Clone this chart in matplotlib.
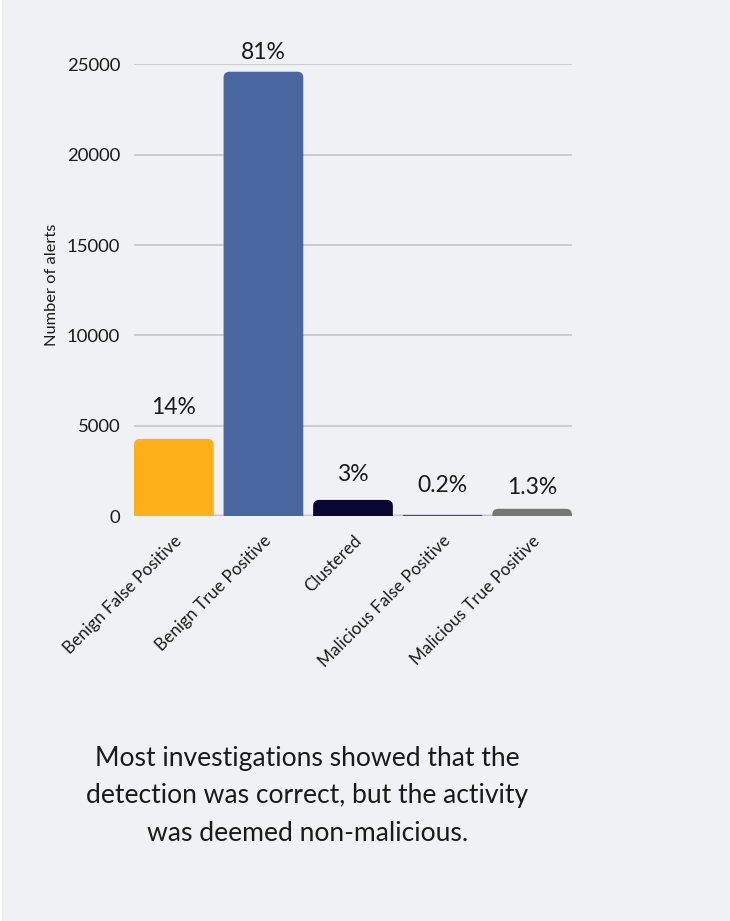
import matplotlib
matplotlib.use("Agg")
import matplotlib.pyplot as plt
from matplotlib.patches import FancyBboxPatch, Rectangle
from matplotlib.transforms import ScaledTranslation

plt.rcParams['font.family'] = ['Lato', 'DejaVu Sans']

categories = ["Benign False Positive", "Benign True Positive", "Clustered",
              "Malicious False Positive", "Malicious True Positive"]
alerts = [4270, 24600, 890, 60, 400]
share_labels = ["14%", "81%", "3%", "0.2%", "1.3%"]
bar_colors = ["#FDB018", "#4A66A0", "#0A0632", "#3E4A82", "#777777"]
y_ticks = [0, 5000, 10000, 15000, 20000, 25000]
caption = ("Most investigations showed that the\n"
           "detection was correct, but the activity\n"
           "was deemed non-malicious.")

BG = "#F0F1F5"
TXT = "#1A1A1A"
W, H, DPI = 730, 921, 100

fig = plt.figure(figsize=(W / DPI, H / DPI), dpi=DPI, facecolor=BG)
fig.patches.append(Rectangle((0, 0), 2 / W, 1, transform=fig.transFigure,
                             facecolor="white", edgecolor="none", zorder=0))

ax_left, ax_right, ax_top, ax_bottom = 134, 572, 64.5, 516
ax_w, ax_h = ax_right - ax_left, ax_bottom - ax_top
ax = fig.add_axes([ax_left / W, 1 - ax_bottom / H, ax_w / W, ax_h / H])
ax.set_facecolor(BG)

bar_w = 0.89
x = list(range(len(categories)))
bars = ax.bar(x, alerts, width=bar_w, color=bar_colors, alpha=0)
ax.set_xlim(-bar_w / 2, len(categories) - 1 + bar_w / 2)
ax.set_ylim(0, 25000)

# rounded-top replacements for the plain bars
px_per_x = ax_w / (ax.get_xlim()[1] - ax.get_xlim()[0])
px_per_y = ax_h / (ax.get_ylim()[1] - ax.get_ylim()[0])
aspect = px_per_x / px_per_y
radius_px = 6
for rect, col in zip(bars.patches, bar_colors):
    h = rect.get_height()
    r_px = min(radius_px, max(h * px_per_y, 0.5))
    r = r_px / px_per_x
    extra = 20 / px_per_y
    patch = FancyBboxPatch((rect.get_x(), -extra), rect.get_width(), h + extra,
                           boxstyle=f"round,pad=0,rounding_size={r}",
                           mutation_aspect=aspect, facecolor=col,
                           edgecolor="none", zorder=3, clip_on=True)
    ax.add_patch(patch)

# value labels above the bars
label_offsets = [25, 13, 19, 23, 15]
for xi, v, lab, off in zip(x, alerts, share_labels, label_offsets):
    ax.annotate(lab, (xi, v), xytext=(0, off), textcoords="offset pixels",
                ha="center", va="baseline", fontsize=16.5, color=TXT,
                annotation_clip=False)

ax.set_yticks(y_ticks)
ax.set_yticklabels([str(t) for t in y_ticks], fontsize=13.3, color=TXT)
ax.grid(axis="y", color="#C9CACE", linewidth=1.3, zorder=0)
ax.axhline(0, color="#A8A8A8", linewidth=2.5, zorder=1)
ax.tick_params(axis="y", length=0, pad=10)
ax.tick_params(axis="x", length=0, pad=14)
ax.set_xticks(x)
ax.set_xticklabels(categories, rotation=45, ha="right", va="top",
                   rotation_mode="anchor", fontsize=12.3, color=TXT)
shift = ScaledTranslation(0, 3 / DPI, fig.dpi_scale_trans)
for t in ax.get_xticklabels():
    t.set_transform(t.get_transform() + shift)
for s in ax.spines.values():
    s.set_visible(False)
ax.set_ylabel("Number of alerts", fontsize=11.8, color=TXT)
ax.yaxis.set_label_coords((59 - ax_left) / ax_w, (ax_bottom - 285) / ax_h)

# caption: baseline of the last line is given
fig.text(307.5 / W, 1 - 840.7 / H, caption, ha="center", va="baseline",
         fontsize=19.1, color=TXT, linespacing=1.63, multialignment="center")

fig.savefig("out.png", dpi=DPI, facecolor=BG)
